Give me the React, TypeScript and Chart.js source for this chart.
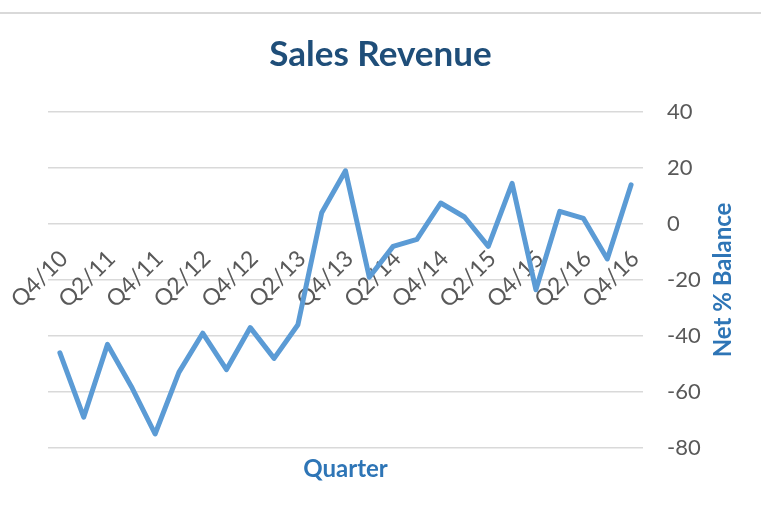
import React, { useEffect, useRef } from 'react';
import { Chart, registerables } from 'chart.js';

Chart.register(...registerables);

const TITLE = 'Sales Revenue';
const X_TITLE = 'Quarter';
const Y_TITLE = 'Net % Balance';

const quarters = [
  'Q4/10', 'Q1/11', 'Q2/11', 'Q3/11', 'Q4/11', 'Q1/12', 'Q2/12', 'Q3/12', 'Q4/12',
  'Q1/13', 'Q2/13', 'Q3/13', 'Q4/13', 'Q1/14', 'Q2/14', 'Q3/14', 'Q4/14',
  'Q1/15', 'Q2/15', 'Q3/15', 'Q4/15', 'Q1/16', 'Q2/16', 'Q3/16', 'Q4/16',
];

const netBalance = [
  -46, -69, -43, -58, -75, -53, -39, -52, -37,
  -48, -36, 4, 19, -19, -8, -5.5, 7.5,
  2.5, -8, 14.5, -23.5, 4.5, 2, -12.5, 14,
];

const yTicks = [-80, -60, -40, -20, 0, 20, 40];

const FONT = 'Lato, "Open Sans", "Liberation Sans", sans-serif';
const TICK_COLOR = '#595959';
const AXIS_TITLE_COLOR = '#2e75b6';

const rightAxisTitle = {
  id: 'rightAxisTitle',
  afterDraw(chart: any) {
    const ys = chart.scales.y;
    const { ctx, chartArea } = chart;
    ctx.save();
    ctx.translate(ys.right - 38, (chartArea.top + chartArea.bottom) / 2);
    ctx.rotate(-Math.PI / 2);
    ctx.font = `bold 24px ${FONT}`;
    ctx.fillStyle = AXIS_TITLE_COLOR;
    ctx.textAlign = 'center';
    ctx.textBaseline = 'middle';
    ctx.fillText(Y_TITLE, 0, 0);
    ctx.restore();
  },
};

export default function App() {
  const canvasRef = useRef<HTMLCanvasElement | null>(null);

  useEffect(() => {
    if (!canvasRef.current) return;
    const chart = new Chart(canvasRef.current, {
      type: 'line',
      data: {
        labels: quarters,
        datasets: [
          {
            label: Y_TITLE,
            data: netBalance,
            xAxisID: 'x',
            yAxisID: 'y',
            borderColor: '#5b9bd5',
            backgroundColor: '#5b9bd5',
            borderWidth: 5,
            borderJoinStyle: 'round',
            borderCapStyle: 'round',
            pointRadius: 0,
            pointHoverRadius: 0,
            tension: 0,
            fill: false,
          },
        ],
      },
      options: {
        animation: false,
        responsive: false,
        maintainAspectRatio: false,
        events: [],
        layout: { padding: { top: 14, left: 0, right: 0, bottom: 0 } },
        plugins: {
          legend: { display: false },
          tooltip: { enabled: false },
          title: {
            display: true,
            text: TITLE,
            color: '#1f4e79',
            font: { family: FONT, size: 35, weight: 'bold' },
            padding: { top: 20, bottom: 36 },
          },
        },
        scales: {
          x: {
            type: 'category',
            position: { y: 0 } as any,
            offset: true,
            grid: { display: false, drawTicks: false },
            border: { display: false },
            ticks: {
              autoSkip: false,
              minRotation: 45,
              maxRotation: 45,
              padding: 21,
              labelOffset: 4,
              color: TICK_COLOR,
              font: { family: FONT, size: 23 },
              callback: (_v: any, i: number) => (i % 2 === 0 ? quarters[i] : ''),
            },
            afterFit: (s: any) => {
              s.height = 0;
              s.paddingLeft = 0;
              s.paddingRight = 0;
            },
          },
          x2: {
            type: 'category',
            labels: quarters,
            position: 'bottom',
            offset: true,
            grid: { display: false, drawTicks: false },
            border: { display: false },
            ticks: { display: false },
            title: {
              display: true,
              text: X_TITLE,
              color: AXIS_TITLE_COLOR,
              font: { family: FONT, size: 24, weight: 'bold' },
              padding: { top: 7, bottom: 27 },
            },
            afterFit: (s: any) => {
              s.height = 63;
            },
          },
          yLeft: {
            type: 'linear',
            position: 'left',
            display: true,
            grid: { display: false, drawTicks: false },
            border: { display: false },
            ticks: { display: false },
            afterFit: (s: any) => {
              s.width = 48;
            },
          },
          y: {
            type: 'linear',
            position: 'right',
            min: yTicks[0],
            max: yTicks[yTicks.length - 1],
            afterBuildTicks: (s: any) => {
              s.ticks = yTicks.map((v) => ({ value: v }));
            },
            ticks: {
              padding: 24,
              color: TICK_COLOR,
              font: { family: FONT, size: 22 },
            },
            grid: { color: '#d9d9d9', lineWidth: 1.5, drawTicks: false },
            border: { display: false },
            afterFit: (s: any) => {
              s.width = 118;
            },
          },
        },
      } as any,
      plugins: [rightAxisTitle],
    });
    return () => chart.destroy();
  }, []);

  return (
    <div style={{ position: 'absolute', left: 0, top: 0, width: 761, height: 511, background: '#fff' }}>
      <div style={{ position: 'absolute', left: 0, top: 12, width: 761, height: 2, background: '#d9d9d9' }} />
      <canvas ref={canvasRef} width={761} height={511} style={{ position: 'absolute', left: 0, top: 0 }} />
    </div>
  );
}
